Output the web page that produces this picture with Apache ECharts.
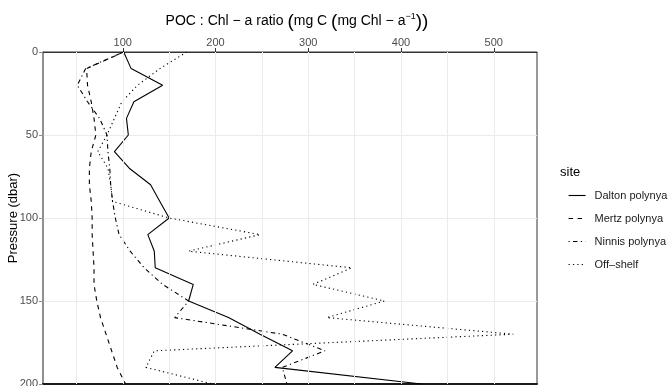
<!DOCTYPE html>
<html>
<head>
<meta charset="utf-8">
<script src="https://cdn.jsdelivr.net/npm/echarts@6/dist/echarts.min.js"></script>
<style>
  html, body { margin: 0; padding: 0; background: #fff; }
  #chart { width: 670px; height: 386px; }
</style>
</head>
<body>
<div id="chart"></div>
<script>
// Depth profiles of POC : Chl-a ratio at four sites
const pressure = [0, 10, 20, 30, 40, 50, 60, 70, 80, 90, 100, 110, 120, 130, 140, 150, 160, 170, 180, 190, 200];
const dalton   = [101, 109, 143, 112, 104, 106, 91, 107, 130, 140, 150, 127, 134, 135, 176, 171, 214, 248, 283, 264, 422];
const mertz    = [101, 61, 62, 66, 69, 71, 66, 64, 64, 66, 67, 67, 68, 69, 69, 72, 76, 82, 88, 94, 103];
const ninnis   = [101, 60, 51, 62, 75, 83, 84, 86, 87, 89, 92, 96, 108, 123, 143, 171, 156, 272, 318, 272, 277];
const offShelf = [169, 140, 116, 99, 91, 83, 73, 84, 87, 89, 150, 248, 171, 347, 305, 382, 320, 521, 134, 125, 197];

const siteNames = ['Dalton polynya', 'Mertz polynya', 'Ninnis polynya', 'Off–shelf'];
const xTickValues = [100, 200, 300, 400, 500];
const xGridValues = [50, 100, 150, 200, 250, 300, 350, 400, 450, 500];
const yTickValues = [0, 50, 100, 150, 200];

const FONT = '"Liberation Sans", Arial, Helvetica, sans-serif';
const siteValues = [dalton, mertz, ninnis, offShelf];
const dashPatterns = ['solid', [4.5, 4.5], [1.2, 3.3, 4.5, 3.3], [1.2, 3.2]];

const chart = echarts.init(document.getElementById('chart'), null, { renderer: 'canvas' });

const siteSeries = siteNames.map((name, i) => ({
  type: 'line',
  name: name,
  data: pressure.map((p, j) => [siteValues[i][j], p]),
  symbol: 'none',
  z: 3,
  itemStyle: { color: '#000' },
  lineStyle: { color: '#000', width: 1.1, type: dashPatterns[i], cap: 'butt' },
  emphasis: { disabled: true }
}));

chart.setOption({
  animation: false,
  textStyle: { fontFamily: FONT },
  title: [
    {
      left: 292,
      top: 7,
      textAlign: 'center',
      text: 'POC : Chl − a ratio {p|(}mg C {p|(}mg Chl − a{s|−1}{p|))}',
      textStyle: {
        fontFamily: FONT, fontSize: 14, fontWeight: 'normal', color: '#000',
        rich: {
          p: { fontFamily: FONT, fontSize: 19, color: '#000' },
          s: { fontFamily: FONT, fontSize: 9, color: '#000', verticalAlign: 'top', padding: [0, 0, 9, 0] }
        }
      }
    },
    {
      left: 555,
      top: 161,
      text: 'site',
      textStyle: { fontFamily: FONT, fontSize: 13, fontWeight: 'normal', color: '#000' }
    }
  ],
  grid: {
    left: 43, right: 133, top: 52, bottom: 2,
    containLabel: false,
    outerBoundsMode: 'none',
    show: true, borderColor: '#333', borderWidth: 1, backgroundColor: '#fff'
  },
  legend: {
    orient: 'vertical',
    left: 563,
    top: 185,
    itemWidth: 17,
    itemHeight: 11,
    itemGap: 12,
    selectedMode: false,
    itemStyle: { color: 'transparent', borderWidth: 0, opacity: 0 },
    textStyle: { fontFamily: FONT, fontSize: 11, color: '#1a1a1a', padding: [0, 0, 0, 4] },
    data: siteNames.map((name, i) => ({
      name: name,
      itemStyle: { color: 'transparent', borderWidth: 0, opacity: 0 },
      lineStyle: { color: '#000', width: 1.1, type: dashPatterns[i], opacity: 1 }
    }))
  },
  xAxis: [
    {
      type: 'value',
      position: 'top',
      min: 14,
      max: 546.6,
      axisLine: { show: true, lineStyle: { color: '#333', width: 1 } },
      axisTick: { show: true, length: 4, customValues: xTickValues, lineStyle: { color: '#333' } },
      axisLabel: { customValues: xTickValues, color: '#4d4d4d', fontSize: 11, margin: 4, fontFamily: FONT },
      splitLine: { show: false }
    },
    {
      type: 'value',
      position: 'bottom',
      min: 14,
      max: 546.6,
      axisLine: { show: true, lineStyle: { color: '#1a1a1a', width: 2 } },
      axisTick: { show: false },
      axisLabel: { show: false },
      splitLine: { show: false }
    }
  ],
  yAxis: {
    type: 'value',
    inverse: true,
    min: 0,
    max: 200,
    interval: 50,
    name: 'Pressure (dbar)',
    nameLocation: 'middle',
    nameGap: 23,
    nameMoveOverlap: false,
    nameTextStyle: { fontFamily: FONT, fontSize: 13, color: '#000' },
    axisLine: { show: true, lineStyle: { color: '#8c8c8c', width: 1.5 } },
    axisTick: { show: true, length: 4, lineStyle: { color: '#8c8c8c' } },
    axisLabel: { color: '#4d4d4d', fontSize: 11, margin: 5, fontFamily: FONT,
                 customValues: yTickValues },
    splitLine: { show: true, lineStyle: { color: '#ebebeb', width: 1 } }
  },
  series: [
    {
      type: 'line',
      name: 'grid',
      data: [],
      z: 1,
      silent: true,
      markLine: {
        silent: true,
        symbol: 'none',
        animation: false,
        label: { show: false },
        emphasis: { disabled: true },
        lineStyle: { color: '#ebebeb', width: 1, type: 'solid' },
        data: xGridValues.map(v => ({ xAxis: v }))
      }
    },
    ...siteSeries
  ]
});
</script>
</body>
</html>
